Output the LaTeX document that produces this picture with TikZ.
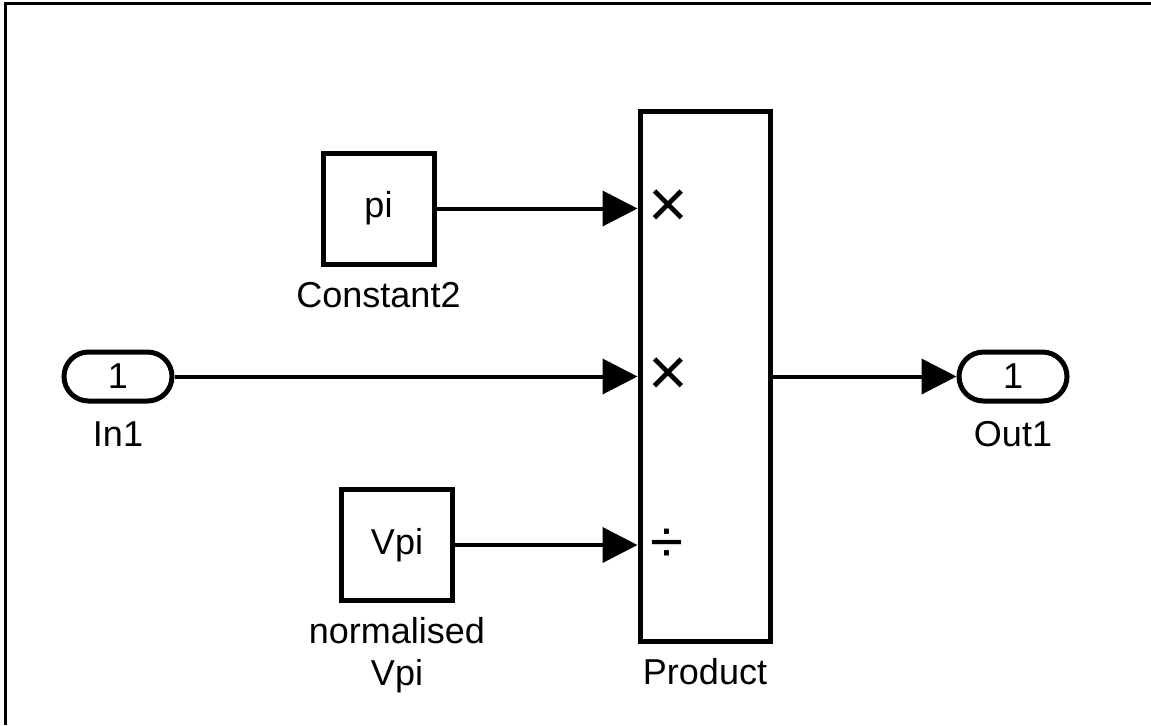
\documentclass[tikz,border=0pt]{standalone}
\usepackage{fontspec}
\setmainfont{Liberation Sans}
\usetikzlibrary{arrows.meta,shapes.misc}
\begin{document}
\begin{tikzpicture}[x=0.5pt,y=-0.5pt,
  every node/.style={font=\fontsize{18}{21.6}\selectfont},
  block/.style={draw,line width=2.5pt,inner sep=0pt,minimum width=55.5pt,minimum height=55.5pt},
  port/.style={draw,rounded rectangle,line width=2.5pt,inner sep=0pt,minimum width=54pt,minimum height=24.5pt},
  prodbox/.style={draw,line width=2.5pt,inner sep=0pt,minimum width=65pt,minimum height=265pt},
  caption/.style={anchor=base,inner sep=0pt},
  sig/.style={line width=2pt,-{Triangle[length=17.5pt,width=17.5pt]}},
  opsign/.style={inner sep=0pt,font=\fontsize{34}{36}\selectfont},
  divsign/.style={inner sep=0pt,font=\fontsize{30}{32}\selectfont}
]
\useasboundingbox (0,0) rectangle (1151,725);
% partial frame
\draw[line width=1.5pt] (5,725) -- (5,3) -- (1151,3);

% blocks
\node[block] (c2) at (378.5,208.5) {pi};
\node[block] (vpi) at (397,545) {Vpi};
\node[port] (in1) at (118,376.5) {1};
\node[port] (out1) at (1013,376.5) {1};
\node[prodbox] (prod) at (705,376.5) {};

% block names
\node[caption] (c2name) at (378.5,307) {Constant2};
\node[caption] (in1name) at (118,446) {In1};
\node[caption] (out1name) at (1013,446) {Out1};
\node[caption] (vpiname1) at (397,643) {normalised};
\node[caption] (vpiname2) at (397,685) {Vpi};
\node[caption] (prodname) at (705,684) {Product};

% product input signs
\node[opsign] (s1) at (668,209) {×};
\node[opsign] (s2) at (668,377) {×};
\node[divsign] (s3) at (667,546) {÷};

% signal lines
\draw[sig] (c2.east) -- (c2.east -| prod.west);
\draw[sig] (in1.east) -- (in1.east -| prod.west);
\draw[sig] (vpi.east) -- (vpi.east -| prod.west);
\draw[sig] (prod.east |- out1.west) -- (out1.west);
\end{tikzpicture}
\end{document}
